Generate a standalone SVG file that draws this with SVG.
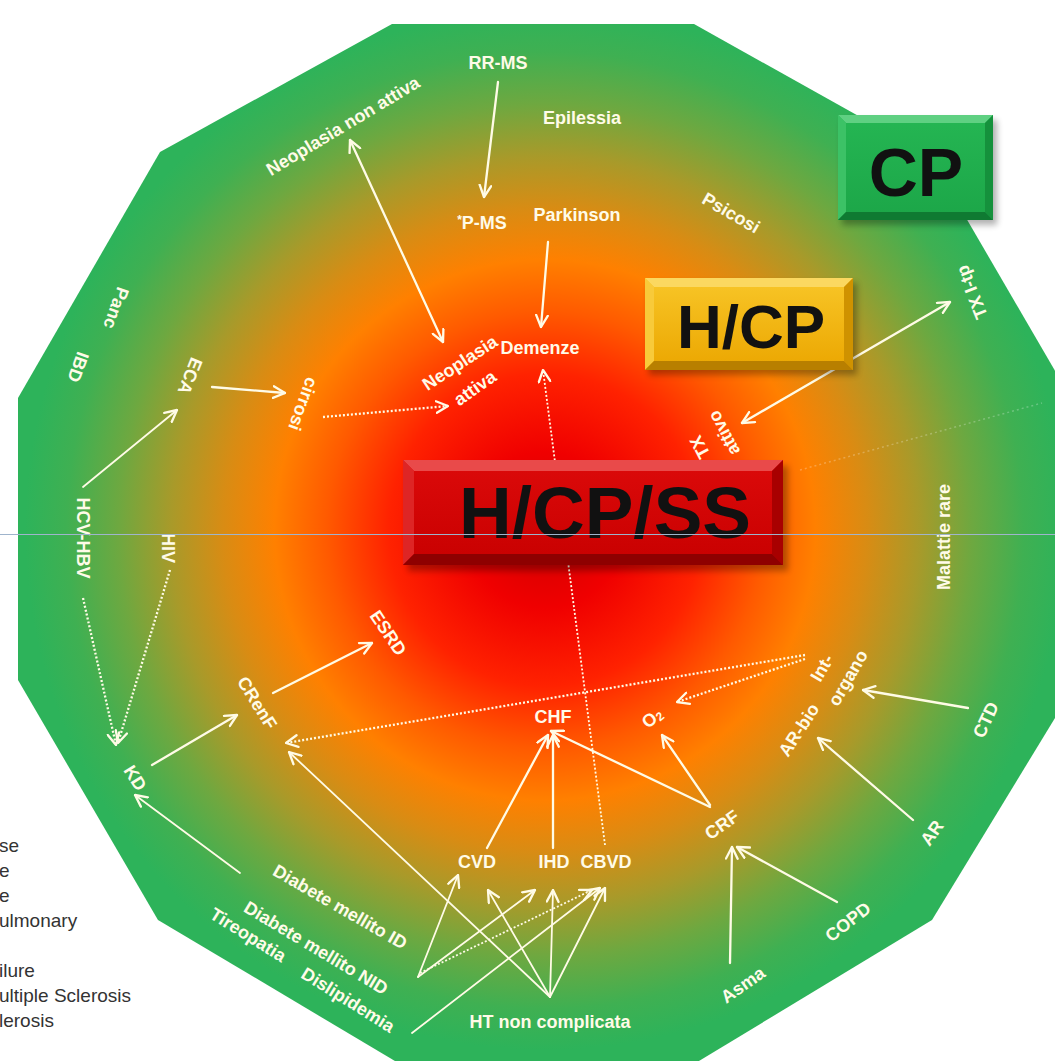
<svg xmlns="http://www.w3.org/2000/svg" width="1055" height="1061" viewBox="0 0 1055 1061">
<style>
.lbl{fill:#fffbe8;font-family:"Liberation Sans",Arial,sans-serif;font-weight:bold;font-size:18px;text-anchor:middle;dominant-baseline:central}
.box{font-family:"Liberation Sans",Arial,sans-serif;font-weight:bold;fill:#111;text-anchor:middle}
.leg{fill:#333;font-family:"Liberation Sans",Arial,sans-serif;font-size:19px}
.c{stroke:#fffbe6;stroke-width:2.3;fill:none;stroke-linecap:round}
.d{stroke-dasharray:2 2;stroke-linecap:butt}
.t{stroke-width:1.8}
</style>
<defs>
<radialGradient id="bg" gradientUnits="userSpaceOnUse" cx="545" cy="530" r="520">
<stop offset="0" stop-color="#d00000"/>
<stop offset="0.15" stop-color="#f00000"/>
<stop offset="0.3" stop-color="#ff2200"/>
<stop offset="0.42" stop-color="#ff5a00"/>
<stop offset="0.52" stop-color="#ff8000"/>
<stop offset="0.62" stop-color="#d88c14"/>
<stop offset="0.72" stop-color="#a89a2a"/>
<stop offset="0.82" stop-color="#6ea840"/>
<stop offset="0.92" stop-color="#3fb052"/>
<stop offset="1" stop-color="#2db35a"/>
</radialGradient>
<linearGradient id="gold" x1="0" y1="0" x2="0" y2="1">
<stop offset="0" stop-color="#f8c628"/>
<stop offset="1" stop-color="#eba600"/>
</linearGradient>
<linearGradient id="redf" x1="0" y1="0" x2="0" y2="1">
<stop offset="0" stop-color="#dc0a0a"/>
<stop offset="1" stop-color="#c80000"/>
</linearGradient>
<linearGradient id="grnf" x1="0" y1="0" x2="0" y2="1">
<stop offset="0" stop-color="#25b653"/>
<stop offset="1" stop-color="#1ca648"/>
</linearGradient>
<filter id="sh" x="-10%" y="-10%" width="130%" height="140%">
<feGaussianBlur stdDeviation="3"/>
</filter>
<marker id="ah" viewBox="0 0 12 12" refX="11" refY="6" markerWidth="14" markerHeight="14" markerUnits="userSpaceOnUse" orient="auto-start-reverse">
<path d="M1,1 L11,6 L1,11" fill="none" stroke="#fffbe6" stroke-width="2" stroke-linecap="round" stroke-linejoin="round"/>
</marker>
</defs>

<rect width="1055" height="1061" fill="#ffffff"/>

<g id="background">
<polygon points="392,24 694,24 930,156 1072,400 1072,690 932,920 694,1064 400,1064 158,920 18,680 18,398 160,152" fill="url(#bg)"/>
<line x1="800" y1="470" x2="1042" y2="403" stroke="#ffffff" stroke-opacity="0.25" stroke-width="1.5" stroke-dasharray="2 3"/>
</g>

<g id="connectors">
<line class="c" x1="498" y1="82" x2="484" y2="197" marker-end="url(#ah)"/>
<line class="c" x1="350" y1="140" x2="443" y2="342" marker-start="url(#ah)" marker-end="url(#ah)"/>
<line class="c" x1="548" y1="242" x2="541" y2="327" marker-end="url(#ah)"/>
<line class="c" x1="950" y1="302" x2="742" y2="423" marker-start="url(#ah)" marker-end="url(#ah)"/>
<line class="c" x1="212" y1="387" x2="285" y2="393" marker-end="url(#ah)"/>
<line class="c d" x1="323" y1="417" x2="448" y2="406" marker-end="url(#ah)"/>
<line class="c t" x1="83" y1="487" x2="177" y2="410" marker-end="url(#ah)"/>
<line class="c d t" x1="605" y1="845" x2="543" y2="370" marker-end="url(#ah)"/>
<line class="c d" x1="83" y1="598" x2="116" y2="745" marker-end="url(#ah)"/>
<line class="c d" x1="170" y1="570" x2="118" y2="743" marker-end="url(#ah)"/>
<line class="c" x1="152" y1="765" x2="237" y2="715" marker-end="url(#ah)"/>
<line class="c" x1="273" y1="693" x2="372" y2="643" marker-end="url(#ah)"/>
<line class="c d" x1="805" y1="655" x2="286" y2="743" marker-end="url(#ah)"/>
<line class="c d" x1="805" y1="659" x2="677" y2="702" marker-end="url(#ah)"/>
<line class="c" x1="968" y1="708" x2="863" y2="690" marker-end="url(#ah)"/>
<line class="c" x1="913" y1="820" x2="818" y2="738" marker-end="url(#ah)"/>
<line class="c" x1="710" y1="807" x2="551" y2="731" marker-end="url(#ah)"/>
<line class="c" x1="710" y1="805" x2="662" y2="735" marker-end="url(#ah)"/>
<line class="c" x1="730" y1="963" x2="732" y2="847" marker-end="url(#ah)"/>
<line class="c" x1="837" y1="902" x2="737" y2="847" marker-end="url(#ah)"/>
<line class="c t" x1="240" y1="873" x2="135" y2="795" marker-end="url(#ah)"/>
<line class="c" x1="487" y1="848" x2="548" y2="735" marker-end="url(#ah)"/>
<line class="c" x1="553" y1="848" x2="553" y2="735" marker-end="url(#ah)"/>
<line class="c t" x1="418" y1="977" x2="458" y2="875" marker-end="url(#ah)"/>
<line class="c t" x1="418" y1="977" x2="535" y2="890" marker-end="url(#ah)"/>
<line class="c d t" x1="420" y1="973" x2="592" y2="890" marker-end="url(#ah)"/>
<line class="c t" x1="550" y1="997" x2="488" y2="890" marker-end="url(#ah)"/>
<line class="c t" x1="550" y1="997" x2="553" y2="890" marker-end="url(#ah)"/>
<line class="c t" x1="550" y1="997" x2="605" y2="888" marker-end="url(#ah)"/>
<line class="c t" x1="550" y1="997" x2="289" y2="752" marker-end="url(#ah)"/>
<line class="c t" x1="412" y1="1033" x2="600" y2="888" marker-end="url(#ah)"/>
</g>

<g id="box-cp">
<rect x="842" y="120" width="155" height="105" fill="#000" opacity="0.3" filter="url(#sh)"/>
<rect x="838" y="115" width="155" height="105" fill="url(#grnf)"/>
<polygon points="838,115 993,115 985,123 846,123" fill="#5fd082"/>
<polygon points="838,115 846,123 846,212 838,220" fill="#3cc266"/>
<polygon points="993,115 985,123 985,212 993,220" fill="#15913c"/>
<polygon points="838,220 993,220 985,212 846,212" fill="#0f7a32"/>
<text class="box" x="916" y="196" font-size="68">CP</text>
</g>

<g id="box-hcp">
<rect x="649" y="283" width="208" height="92" fill="#000" opacity="0.3" filter="url(#sh)"/>
<rect x="645" y="278" width="208" height="92" fill="url(#gold)"/>
<polygon points="645,278 853,278 844,287 654,287" fill="#fbd860"/>
<polygon points="645,278 654,287 654,361 645,370" fill="#f8ca3a"/>
<polygon points="853,278 844,287 844,361 853,370" fill="#cf9200"/>
<polygon points="645,370 853,370 844,361 654,361" fill="#b87f00"/>
<text class="box" x="751" y="348" font-size="62">H/CP</text>
</g>

<g id="box-hcpss">
<rect x="408" y="466" width="380" height="105" fill="#000" opacity="0.3" filter="url(#sh)"/>
<rect x="403" y="460" width="380" height="105" fill="url(#redf)"/>
<polygon points="403,460 783,460 772,471 414,471" fill="#e94a4a"/>
<polygon points="403,460 414,471 414,554 403,565" fill="#de2525"/>
<polygon points="783,460 772,471 772,554 783,565" fill="#a80000"/>
<polygon points="403,565 783,565 772,554 414,554" fill="#8e0000"/>
<text class="box" x="605" y="538" font-size="73">H/CP/SS</text>
</g>

<g id="n-rrms"><text class="lbl" x="498" y="63">RR-MS</text></g>
<g id="n-epilessia"><text class="lbl" x="582" y="118">Epilessia</text></g>
<g id="n-neonon"><text class="lbl" transform="translate(343,126) rotate(-31)">Neoplasia non attiva</text></g>
<g id="n-pms"><text class="lbl" x="482" y="223"><tspan font-size="12" dy="-3">*</tspan><tspan dy="3">P-MS</tspan></text></g>
<g id="n-parkinson"><text class="lbl" x="577" y="215">Parkinson</text></g>
<g id="n-psicosi"><text class="lbl" transform="translate(731,213) rotate(30)">Psicosi</text></g>
<g id="n-txitp"><text class="lbl" transform="translate(972,292) rotate(-112)">TX I-tp</text></g>
<g id="n-txattivo">
<text class="lbl" transform="translate(700,447) rotate(-118)">TX</text>
<text class="lbl" transform="translate(724,433) rotate(-118)">attivo</text>
</g>
<g id="n-panc"><text class="lbl" transform="translate(116,308) rotate(110)">Panc</text></g>
<g id="n-ibd"><text class="lbl" transform="translate(78,367) rotate(110)">IBD</text></g>
<g id="n-eca"><text class="lbl" transform="translate(190,376) rotate(112)">ECA</text></g>
<g id="n-cirrosi"><text class="lbl" transform="translate(303,404) rotate(110)">cirrosi</text></g>
<g id="n-neoatt">
<text class="lbl" transform="translate(460,363) rotate(-33)">Neoplasia</text>
<text class="lbl" transform="translate(475,388) rotate(-35)">attiva</text>
</g>
<g id="n-demenze"><text class="lbl" x="540" y="348">Demenze</text></g>
<g id="n-hcvhbv"><text class="lbl" transform="translate(83,538) rotate(90)">HCV-HBV</text></g>
<g id="n-hiv"><text class="lbl" transform="translate(168,548) rotate(90)">HIV</text></g>
<g id="n-kd"><text class="lbl" transform="translate(135,778) rotate(58)">KD</text></g>
<g id="n-crenf"><text class="lbl" transform="translate(257,703) rotate(58)">CRenF</text></g>
<g id="n-esrd"><text class="lbl" transform="translate(388,633) rotate(56)">ESRD</text></g>
<g id="n-malattie"><text class="lbl" transform="translate(944,537) rotate(-90)">Malattie rare</text></g>
<g id="n-intorgano">
<text class="lbl" transform="translate(822,668) rotate(-60)">Int-</text>
<text class="lbl" transform="translate(848,678) rotate(-60)">organo</text>
</g>
<g id="n-arbio"><text class="lbl" transform="translate(799,730) rotate(-57)">AR-bio</text></g>
<g id="n-ctd"><text class="lbl" transform="translate(986,720) rotate(-65)">CTD</text></g>
<g id="n-ar"><text class="lbl" transform="translate(932,833) rotate(-55)">AR</text></g>
<g id="n-crf"><text class="lbl" transform="translate(722,825) rotate(-35)">CRF</text></g>
<g id="n-o2"><text class="lbl" transform="translate(652,718) rotate(-40)">O<tspan font-size="12" dy="4">2</tspan></text></g>
<g id="n-chf"><text class="lbl" x="553" y="717">CHF</text></g>
<g id="n-cvd"><text class="lbl" x="477" y="862">CVD</text></g>
<g id="n-ihd"><text class="lbl" x="554" y="862">IHD</text></g>
<g id="n-cbvd"><text class="lbl" x="606" y="862">CBVD</text></g>
<g id="n-ht"><text class="lbl" x="550" y="1022">HT non complicata</text></g>
<g id="n-copd"><text class="lbl" transform="translate(848,922) rotate(-38)">COPD</text></g>
<g id="n-asma"><text class="lbl" transform="translate(743,985) rotate(-35)">Asma</text></g>
<g id="n-dmid"><text class="lbl" transform="translate(340,907) rotate(30)">Diabete mellito ID</text></g>
<g id="n-dmnid"><text class="lbl" transform="translate(316,948) rotate(31)">Diabete mellito NID</text></g>
<g id="n-tireo"><text class="lbl" transform="translate(248,935) rotate(32)">Tireopatia</text></g>
<g id="n-disli"><text class="lbl" transform="translate(348,1000) rotate(32)">Dislipidemia</text></g>

<g id="legend">
<text class="leg" x="-1" y="852">se</text>
<text class="leg" x="-1" y="877">e</text>
<text class="leg" x="-1" y="902">e</text>
<text class="leg" x="-1" y="927">ulmonary</text>
<text class="leg" x="-1" y="977">ilure</text>
<text class="leg" x="-1" y="1002">ultiple Sclerosis</text>
<text class="leg" x="-1" y="1027">lerosis</text>
</g>

<line x1="0" y1="534.5" x2="1055" y2="534.5" stroke="#9fb4cc" stroke-width="1"/>
</svg>
